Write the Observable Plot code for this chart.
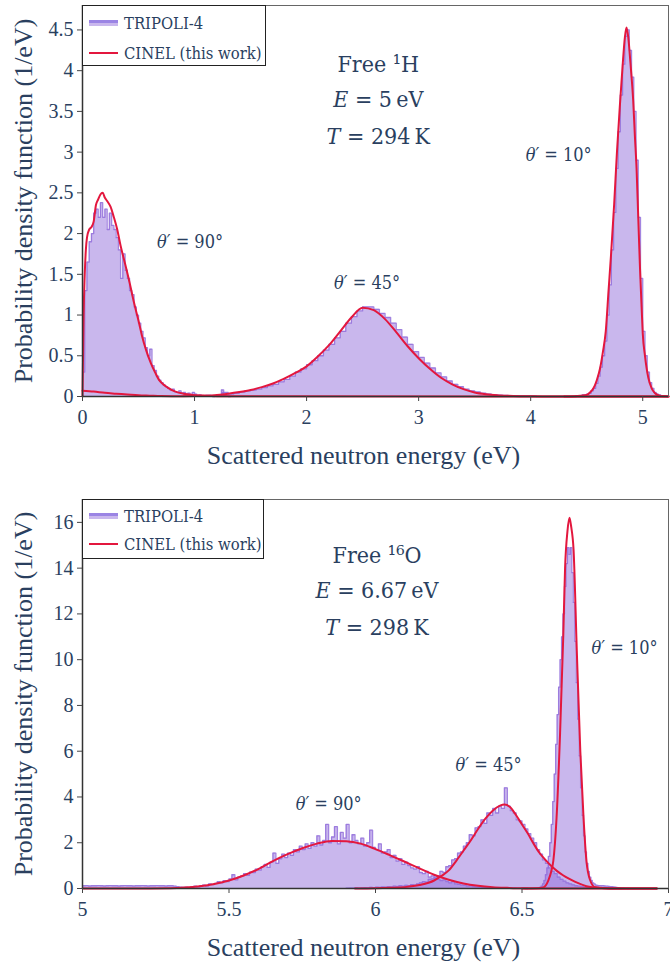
<!DOCTYPE html>
<html><head><meta charset="utf-8">
<script src="https://cdn.jsdelivr.net/npm/d3@7"></script>
<script src="https://cdn.jsdelivr.net/npm/@observablehq/plot@0.6"></script>
<style>
body{margin:0;background:#fff;}
#wrap{position:relative;width:670px;height:966px;}
#wrap svg{display:block;}
.legend{position:absolute;background:#fff;border:1.5px solid #222;box-sizing:border-box;font-family:'DejaVu Serif Condensed','Noto Serif','Liberation Serif',serif;font-size:16.5px;color:#2a3f5f;}
.legend .row{position:absolute;left:0;height:20px;display:flex;align-items:center;white-space:nowrap;}
.legend .sw{width:29px;margin-left:6px;margin-right:6px;}
.legend .sw.p{height:6px;background:linear-gradient(#9b84e4 0 45%,#c9b7ed 45% 100%);}
.legend .sw.r{height:2px;background:#e3173e;}
</style>
</head><body>
<div id="wrap"></div>
<script>
// ---------- Panel 1 : free 1H, E = 5 eV, T = 294 K ----------
const xTicksH = [0, 1, 2, 3, 4, 5];
const yTicksH = [0, 0.5, 1, 1.5, 2, 2.5, 3, 3.5, 4, 4.5];

// TRIPOLI-4 histograms (bin start, bin width, bin values)
const hTrip90Start = 0, hTrip90Step = 0.02;
const hTrip90 = [0.3,1.3,1.65,1.9,2.0,2.25,2.3,2.2,2.38,2.2,2.3,2.05,2.25,2.1,2.05,1.95,1.8,1.45,1.75,1.55,1.45,1.3,1.25,1.1,1.0,0.9,0.8,0.72,0.6,0.5,0.58,0.38,0.32,0.25,0.2,0.17,0.14,0.12,0.1,0.08,0.09,0.06,0.05,0.07,0.04,0.05,0.03,0.04,0.02,0.05,0.03,0.01,0.02,0.01,0.01,0.005,0.01,0.005,0,0.005,0.01,0.005,0.08,0.01,0.005,0];
const hTrip45Start = 0.9, hTrip45Step = 0.05;
const hTrip45 = [0.005,0.01,0.005,0.01,0.015,0.01,0.02,0.05,0.03,0.04,0.055,0.07,0.08,0.09,0.11,0.13,0.15,0.18,0.21,0.25,0.3,0.34,0.39,0.44,0.5,0.57,0.64,0.72,0.8,0.9,0.98,1.05,1.1,1.1,1.07,1.02,0.97,0.9,0.82,0.73,0.64,0.55,0.48,0.41,0.35,0.29,0.24,0.19,0.15,0.12,0.09,0.07,0.055,0.04,0.03,0.022,0.016,0.012,0.009,0.007,0.005,0.004,0.003];
const hTrip10Start = 4.4, hTrip10Step = 0.02;
const hTrip10 = [0.01,0.01,0.01,0.02,0.02,0.03,0.04,0.07,0.1,0.16,0.25,0.36,0.5,0.68,1.0,1.37,1.8,2.26,2.8,3.25,3.7,4.08,4.42,4.5,4.25,3.92,3.5,2.9,2.2,1.45,0.8,0.5,0.3,0.17,0.1,0.05,0.03,0.02,0.01,0.005,0.002];

// CINEL curves (energy, pdf)
const hCin90E = [0,0.005,0.01,0.02,0.03,0.04,0.06,0.08,0.1,0.12,0.14,0.16,0.18,0.2,0.22,0.25,0.28,0.31,0.34,0.38,0.42,0.46,0.5,0.53,0.57,0.61,0.65,0.68,0.72,0.76,0.83,0.9,0.98,1.1,1.3,5.23];
const hCin90V = [0,0.5,1.0,1.5,1.8,1.95,2.05,2.08,2.15,2.35,2.42,2.48,2.5,2.44,2.4,2.33,2.2,2.05,1.85,1.63,1.4,1.15,0.93,0.75,0.56,0.41,0.29,0.21,0.15,0.11,0.06,0.035,0.02,0.01,0.003,0];
const hCin45E = [0,0.1,0.2,0.3,0.4,0.5,0.6,0.7,0.8,0.9,1.0,1.1,1.2,1.3,1.4,1.5,1.6,1.7,1.8,1.9,2.0,2.1,2.2,2.3,2.4,2.5,2.6,2.7,2.8,2.9,3.0,3.1,3.2,3.3,3.4,3.5,3.6,3.7,3.8,3.9,4.0,4.5,5.23];
const hCin45V = [0.07,0.06,0.045,0.035,0.025,0.015,0.01,0.005,0.003,0.003,0.005,0.01,0.02,0.035,0.055,0.08,0.115,0.16,0.22,0.29,0.37,0.49,0.63,0.8,0.97,1.09,1.06,0.95,0.79,0.62,0.47,0.34,0.23,0.15,0.09,0.05,0.028,0.015,0.008,0.004,0.002,0,0];
const hCin10E = [4.3,4.4,4.45,4.5,4.53,4.56,4.59,4.62,4.645,4.67,4.695,4.72,4.745,4.77,4.795,4.82,4.84,4.855,4.87,4.89,4.915,4.93,4.945,4.96,4.975,4.99,5.0,5.02,5.05,5.08,5.11,5.15,5.2,5.23];
const hCin10V = [0,0.003,0.01,0.02,0.05,0.1,0.2,0.35,0.55,0.8,1.3,1.8,2.36,3.0,3.55,4.05,4.4,4.53,4.42,4.1,3.63,3.2,2.8,2.2,1.6,1.1,0.78,0.5,0.23,0.1,0.04,0.01,0.002,0];

// ---------- Panel 2 : free 16O, E = 6.67 eV, T = 298 K ----------
const xTicksO = [5, 5.5, 6, 6.5, 7];
const yTicksO = [0, 2, 4, 6, 8, 10, 12, 14, 16];

const oTrip90Start = 5.0, oTrip90Step = 0.01;
const oTrip90 = [0.12,0.13,0.11,0.12,0.12,0.13,0.12,0.11,0.12,0.13,0.12,0.12,0.11,0.12,0.13,0.12,0.12,0.11,0.12,0.12,0.13,0.12,0.11,0.12,0.12,0.13,0.12,0.12,0.11,0.12,0.12,0.1,0.08,0.06,
0.05,0.06,0.04,0.08,0.1,0.07,0.12,0.15,0.1,0.2,0.17,0.22,0.3,0.25,0.34,0.3,0.42,0.6,0.38,0.5,0.55,0.65,0.58,0.72,0.7,0.85,0.8,0.95,1.05,0.92,1.15,1.55,1.1,1.3,1.5,1.35,1.55,1.45,1.7,1.6,1.85,1.7,1.95,1.75,2.0,1.85,2.3,1.9,2.1,2.8,2.0,2.25,2.7,1.95,2.45,2.2,2.8,2.0,2.35,2.1,1.95,2.2,1.85,2.0,2.55,1.8,1.7,1.95,1.55,1.6,1.7,1.35,1.45,1.2,1.3,1.05,1.15,1.0,0.9,0.85,0.95,0.7,0.65,0.75,0.5,0.55,0.45,0.4,0.35,0.38,0.3,0.25,0.3,0.2,0.18,0.15,0.14,0.1,0.12,0.08,0.07,0.06,0.05,0.05,0.04,0.03,0.03,0.02,0.02,0.02,0.01,0.01,0.01,0.01,0.005,0.005,0.005,0];
const oTrip45Start = 5.9, oTrip45Step = 0.01;
const oTrip45 = [0.01,0.02,0.02,0.03,0.02,0.03,0.04,0.03,0.05,0.04,0.06,0.05,0.07,0.06,0.08,0.07,0.1,0.09,0.12,0.1,0.14,0.12,0.17,0.15,0.2,0.25,0.3,0.28,0.4,0.42,0.5,0.55,0.75,0.7,0.95,1.0,1.25,1.3,1.55,1.6,1.85,2.0,2.35,2.3,2.65,2.7,3.0,2.85,3.3,3.2,3.5,3.3,3.6,3.5,4.4,3.6,3.4,3.3,3.0,2.95,2.8,2.6,2.4,2.2,2.0,1.7,1.5,1.25,1.1,0.9,0.75,0.65,0.5,0.4,0.32,0.25,0.2,0.16,0.12,0.1,0.08,0.06,0.05,0.04,0.03,0.02,0.02,0.015,0.01,0.01,0.01,0.005,0.005,0];
const oTrip10Start = 6.56, oTrip10Step = 0.005;
const oTrip10 = [0.05,0.1,0.2,0.35,0.6,0.9,1.4,2.0,2.8,3.8,5.0,6.3,7.6,8.8,10.0,11.0,12.0,13.2,14.2,14.9,14.6,14.9,13.8,12.5,10.8,9.0,7.4,5.8,4.4,3.2,2.3,1.6,1.1,0.75,0.5,0.35,0.25,0.2,0.15,0.14,0.13,0.13,0.12,0.12,0.11,0.1,0.1,0.09,0.08,0.08,0.07,0.06,0.05,0.04,0.03,0.02,0.01,0.01,0.005,0.005,0];

const oCin90E = [5.0,5.2,5.3,5.35,5.4,5.45,5.5,5.55,5.6,5.65,5.7,5.75,5.8,5.85,5.9,5.95,6.0,6.05,6.1,6.15,6.2,6.25,6.3,6.35,6.4,6.45,6.5,6.6,6.96];
const oCin90V = [0,0,0.01,0.04,0.1,0.2,0.35,0.57,0.85,1.2,1.5,1.76,1.96,2.08,2.07,1.96,1.72,1.45,1.17,0.88,0.6,0.38,0.22,0.12,0.06,0.03,0.01,0.003,0];
const oCin45E = [5.93,6.0,6.05,6.1,6.15,6.2,6.225,6.25,6.275,6.3,6.325,6.35,6.375,6.4,6.425,6.44,6.46,6.48,6.5,6.52,6.54,6.56,6.58,6.6,6.62,6.64,6.66,6.68,6.7,6.72,6.74,6.77,6.8,6.96];
const oCin45V = [0,0.01,0.03,0.06,0.15,0.35,0.55,0.79,1.2,1.65,2.1,2.6,3.05,3.4,3.62,3.67,3.55,3.2,2.8,2.4,1.95,1.55,1.25,0.98,0.76,0.58,0.43,0.3,0.19,0.1,0.05,0.02,0.005,0];
const oCin10E = [6.5,6.55,6.573,6.59,6.6,6.607,6.618,6.63,6.641,6.647,6.655,6.662,6.668,6.676,6.687,6.699,6.71,6.72,6.733,6.75,6.8,6.96];
const oCin10V = [0,0.01,0.05,0.35,0.75,1.22,3.1,6.8,11.1,14.0,15.6,16.2,15.8,14.8,10.4,6.0,3.1,1.2,0.35,0.05,0.005,0];

// text
const legendLabels = ["TRIPOLI-4", "CINEL (this work)"];
const xTitle = "Scattered neutron energy (eV)";
const yTitle = "Probability density function (1/eV)";
const hNotes = [
  {E: 2.64, v: 4.07, text: "Free ¹H"},
  {E: 2.64, v: 3.64, text: "*E* = 5\u2009eV"},
  {E: 2.64, v: 3.19, text: "*T* = 294\u2009K"}
];
const hAngles = [
  {E: 0.96, v: 1.89, text: "*θ′* = 90°"},
  {E: 2.54, v: 1.39, text: "*θ′* = 45°"},
  {E: 4.25, v: 2.96, text: "*θ′* = 10°"}
];
const oNotes = [
  {E: 6.005, v: 14.55, text: "Free ¹⁶O"},
  {E: 6.005, v: 13.02, text: "*E* = 6.67\u2009eV"},
  {E: 6.005, v: 11.4, text: "*T* = 298\u2009K"}
];
const oAngles = [
  {E: 5.84, v: 3.7, text: "*θ′* = 90°"},
  {E: 6.386, v: 5.37, text: "*θ′* = 45°"},
  {E: 6.85, v: 10.5, text: "*θ′* = 10°"}
];

// ---------- helpers ----------
const bins = (start, step, vals) => {
  const out = vals.map((v, i) => ({E: start + i * step, v}));
  out.push({E: start + vals.length * step, v: 0});
  return out;
};
const pts = (Es, Vs) => Es.map((E, i) => ({E, v: Vs[i]}));
const fmt = d => String(d);
const INK = "#2a3f5f";
const PURPLE = "#9370db";
const RED = "#e3173e";
const SERIF = "'Liberation Serif', 'Times New Roman', serif";
const MATH = "'DejaVu Serif Condensed', 'Noto Serif', 'Liberation Serif', serif";

function panel({tripoli, cinel, xDomain, yDomain, xTicks, yTicks, height, marginTop, marginBottom, notes, angles}) {
  return Plot.plot({
    width: 670, height, marginLeft: 82, marginRight: 2, marginTop, marginBottom,
    x: {domain: xDomain, label: null},
    y: {domain: yDomain, label: null},
    style: {fontFamily: SERIF, fontSize: "20px", color: INK, background: "white", overflow: "visible"},
    marks: [
      ...tripoli.map(d => Plot.areaY(d, {x: "E", y: "v", curve: "step-after", fill: PURPLE, fillOpacity: 0.5})),
      ...tripoli.map(d => Plot.lineY(d, {x: "E", y: "v", curve: "step-after", stroke: PURPLE, strokeWidth: 1.3, strokeOpacity: 0.85})),
      ...cinel.map(d => Plot.line(d, {x: "E", y: "v", curve: "monotone-x", stroke: RED, strokeWidth: 2})),
      Plot.frame({stroke: "#666", strokeWidth: 1}),
      Plot.ruleY([yDomain[0]], {stroke: "#333", strokeWidth: 1.5}),
      Plot.ruleX([xDomain[0]], {stroke: "#333", strokeWidth: 1.5}),
      Plot.axisX({ticks: xTicks, tickFormat: fmt, tickSize: 5, tickPadding: 8, fontSize: 20, label: null, stroke: "#444"}),
      Plot.axisY({ticks: yTicks, tickFormat: fmt, tickSize: 5, tickPadding: 4, fontSize: 20, label: null, stroke: "#444"}),
      Plot.text([xTitle], {text: d => d, frameAnchor: "bottom", textAnchor: "middle", lineAnchor: "middle", dy: 59, dx: -12, fontSize: 26, fill: INK}),
      Plot.text([yTitle], {text: d => d, frameAnchor: "left", textAnchor: "middle", lineAnchor: "middle", dx: -59, rotate: -90, fontSize: 26, fill: INK}),
      Plot.text(notes, {x: "E", y: "v", text: "text", fontSize: 23, fill: INK}),
      Plot.text(angles, {x: "E", y: "v", text: "text", fontSize: 18, fill: INK})
    ]
  });
}

function finish(svg) {
  d3.select(svg).selectAll("text").each(function() {
    const t = this.textContent;
    const isNote = /^Free|\*/.test(t);
    this.style.fontFamily = isNote ? MATH : SERIF;
    if (!t.includes("*")) return;
    const parts = t.split("*");
    this.textContent = "";
    parts.forEach((p, i) => {
      if (!p) return;
      const ts = document.createElementNS("http://www.w3.org/2000/svg", "tspan");
      ts.textContent = p;
      if (i % 2 === 1) ts.setAttribute("font-style", "italic");
      this.appendChild(ts);
    });
  });
}

function legend(top, left, width, height, rowTops) {
  const div = document.createElement("div");
  div.className = "legend";
  Object.assign(div.style, {top: top + "px", left: left + "px", width: width + "px", height: height + "px"});
  legendLabels.forEach((lab, i) => {
    const row = document.createElement("div");
    row.className = "row";
    row.style.top = rowTops[i] + "px";
    const sw = document.createElement("div");
    sw.className = "sw " + (i === 0 ? "p" : "r");
    const tx = document.createElement("span");
    tx.textContent = lab;
    row.appendChild(sw); row.appendChild(tx);
    div.appendChild(row);
  });
  return div;
}

const wrap = document.getElementById("wrap");

const top1 = panel({
  tripoli: [bins(hTrip90Start, hTrip90Step, hTrip90), bins(hTrip45Start, hTrip45Step, hTrip45), bins(hTrip10Start, hTrip10Step, hTrip10)],
  cinel: [pts(hCin90E, hCin90V), pts(hCin45E, hCin45V), pts(hCin10E, hCin10V)],
  xDomain: [0, 5.23], yDomain: [0, 4.8], xTicks: xTicksH, yTicks: yTicksH,
  height: 478, marginTop: 5, marginBottom: 82, notes: hNotes, angles: hAngles
});
const bot1 = panel({
  tripoli: [bins(oTrip90Start, oTrip90Step, oTrip90), bins(oTrip45Start, oTrip45Step, oTrip45), bins(oTrip10Start, oTrip10Step, oTrip10)],
  cinel: [pts(oCin90E, oCin90V), pts(oCin45E, oCin45V), pts(oCin10E, oCin10V)],
  xDomain: [5, 7], yDomain: [0, 17], xTicks: xTicksO, yTicks: yTicksO,
  height: 488, marginTop: 21, marginBottom: 78, notes: oNotes, angles: oAngles
});
finish(top1); finish(bot1);
wrap.appendChild(top1);
wrap.appendChild(bot1);
wrap.appendChild(legend(5, 82, 184, 61, [7, 37]));
wrap.appendChild(legend(499, 82, 182, 60, [6, 34]));
</script>
</body></html>
